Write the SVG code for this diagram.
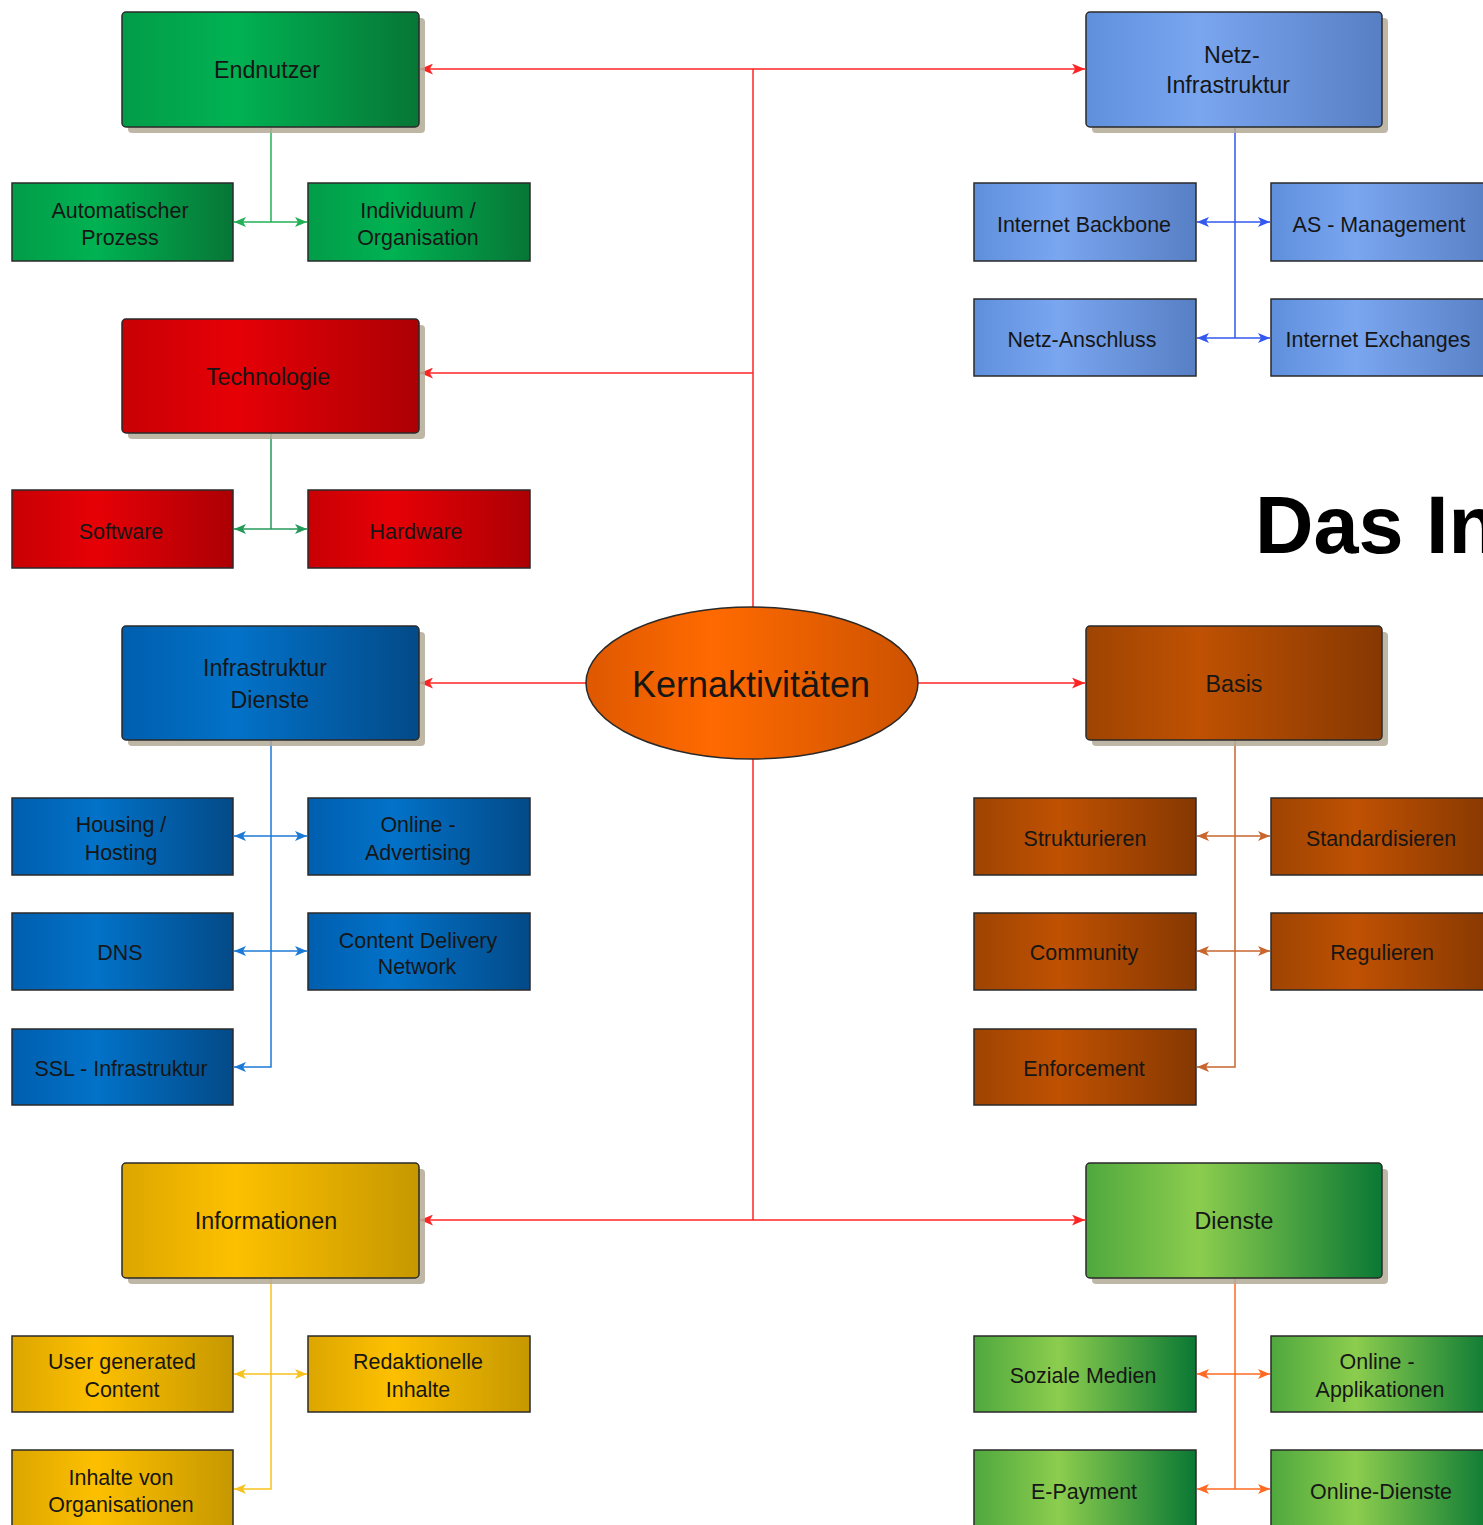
<svg xmlns="http://www.w3.org/2000/svg" width="1483" height="1525" viewBox="0 0 1483 1525">
  <style>
    .main { stroke: #2a2a2a; stroke-width: 1.5; }
    .sub { stroke: #2a2a2a; stroke-width: 1.5; }
    .shadow { fill: #b4aa96; opacity: 0.85; }
    text { font-family: "Liberation Sans", Arial, sans-serif; fill: #161616; text-anchor: middle; }
    .lm { font-size: 24px; transform-box: fill-box; transform-origin: center; transform: scaleX(0.97); }
    .ls { font-size: 22px; transform-box: fill-box; transform-origin: center; transform: scaleX(0.975); }
    .lc { font-size: 36px; }
    .title { font-size: 81px; font-weight: bold; text-anchor: start; fill: #000; }
    .c { fill: none; stroke-width: 1.5; }
    .red { stroke: #ff2424; }
    .gr1 { stroke: #22b055; }
    .gr2 { stroke: #249a5a; }
    .bl1 { stroke: #1c7ad6; }
    .yel { stroke: #f8c21e; }
    .bl2 { stroke: #3358ee; }
    .brn { stroke: #c8662e; }
    .org { stroke: #ff6a22; }
  </style>
  <defs>
    <linearGradient id="gGreen" x1="0" x2="1" y1="0" y2="0">
      <stop offset="0" stop-color="#029c48"/>
      <stop offset="0.38" stop-color="#00b252"/>
      <stop offset="1" stop-color="#077636"/>
    </linearGradient>
    <linearGradient id="gRed" x1="0" x2="1" y1="0" y2="0">
      <stop offset="0" stop-color="#c80004"/>
      <stop offset="0.38" stop-color="#e60006"/>
      <stop offset="1" stop-color="#ac0004"/>
    </linearGradient>
    <linearGradient id="gBlue" x1="0" x2="1" y1="0" y2="0">
      <stop offset="0" stop-color="#005eae"/>
      <stop offset="0.38" stop-color="#0272c8"/>
      <stop offset="1" stop-color="#034a88"/>
    </linearGradient>
    <linearGradient id="gYellow" x1="0" x2="1" y1="0" y2="0">
      <stop offset="0" stop-color="#dca600"/>
      <stop offset="0.38" stop-color="#fdc000"/>
      <stop offset="1" stop-color="#c69800"/>
    </linearGradient>
    <linearGradient id="gSky" x1="0" x2="1" y1="0" y2="0">
      <stop offset="0" stop-color="#5f8fdc"/>
      <stop offset="0.38" stop-color="#7aa6f0"/>
      <stop offset="1" stop-color="#577fc4"/>
    </linearGradient>
    <linearGradient id="gBrown" x1="0" x2="1" y1="0" y2="0">
      <stop offset="0" stop-color="#9e4402"/>
      <stop offset="0.38" stop-color="#bf5102"/>
      <stop offset="1" stop-color="#863802"/>
    </linearGradient>
    <linearGradient id="gLime" x1="0" x2="1" y1="0" y2="0">
      <stop offset="0" stop-color="#4fa83e"/>
      <stop offset="0.38" stop-color="#8ccd4e"/>
      <stop offset="1" stop-color="#0a7834"/>
    </linearGradient>
    <linearGradient id="gOrange" x1="0" x2="1" y1="0" y2="0">
      <stop offset="0" stop-color="#de5800"/>
      <stop offset="0.38" stop-color="#ff6a00"/>
      <stop offset="1" stop-color="#cc5200"/>
    </linearGradient>
    <marker id="mRed" viewBox="0 0 12 10" refX="12" refY="5" markerWidth="13" markerHeight="11" markerUnits="userSpaceOnUse" orient="auto-start-reverse">
      <path d="M0,0 L12,5 L0,10 L3,5 Z" fill="#ff2424"/>
    </marker>
    <marker id="mGr1" viewBox="0 0 12 10" refX="12" refY="5" markerWidth="12" markerHeight="10" markerUnits="userSpaceOnUse" orient="auto-start-reverse">
      <path d="M0,0 L12,5 L0,10 L3,5 Z" fill="#22b055"/>
    </marker>
    <marker id="mGr2" viewBox="0 0 12 10" refX="12" refY="5" markerWidth="12" markerHeight="10" markerUnits="userSpaceOnUse" orient="auto-start-reverse">
      <path d="M0,0 L12,5 L0,10 L3,5 Z" fill="#249a5a"/>
    </marker>
    <marker id="mBl1" viewBox="0 0 12 10" refX="12" refY="5" markerWidth="12" markerHeight="10" markerUnits="userSpaceOnUse" orient="auto-start-reverse">
      <path d="M0,0 L12,5 L0,10 L3,5 Z" fill="#1c7ad6"/>
    </marker>
    <marker id="mYel" viewBox="0 0 12 10" refX="12" refY="5" markerWidth="12" markerHeight="10" markerUnits="userSpaceOnUse" orient="auto-start-reverse">
      <path d="M0,0 L12,5 L0,10 L3,5 Z" fill="#f8c21e"/>
    </marker>
    <marker id="mBl2" viewBox="0 0 12 10" refX="12" refY="5" markerWidth="12" markerHeight="10" markerUnits="userSpaceOnUse" orient="auto-start-reverse">
      <path d="M0,0 L12,5 L0,10 L3,5 Z" fill="#3358ee"/>
    </marker>
    <marker id="mBrn" viewBox="0 0 12 10" refX="12" refY="5" markerWidth="12" markerHeight="10" markerUnits="userSpaceOnUse" orient="auto-start-reverse">
      <path d="M0,0 L12,5 L0,10 L3,5 Z" fill="#c8662e"/>
    </marker>
    <marker id="mOrg" viewBox="0 0 12 10" refX="12" refY="5" markerWidth="12" markerHeight="10" markerUnits="userSpaceOnUse" orient="auto-start-reverse">
      <path d="M0,0 L12,5 L0,10 L3,5 Z" fill="#ff6a22"/>
    </marker>
  </defs>

  <rect width="1483" height="1525" fill="#ffffff"/>

  <!-- connectors -->
  <g id="connectors">
    <!-- central trunk -->
    <path class="c red" d="M753,69 V1220"/>
    <path class="c red" d="M753,69 H420" marker-end="url(#mRed)"/>
    <path class="c red" d="M753,69 H1085" marker-end="url(#mRed)"/>
    <path class="c red" d="M753,373 H420" marker-end="url(#mRed)"/>
    <path class="c red" d="M587,683 H420" marker-end="url(#mRed)"/>
    <path class="c red" d="M918,683 H1085" marker-end="url(#mRed)"/>
    <path class="c red" d="M753,1220 H420" marker-end="url(#mRed)"/>
    <path class="c red" d="M753,1220 H1085" marker-end="url(#mRed)"/>

    <!-- Endnutzer branch -->
    <path class="c gr1" d="M271,127 V222"/>
    <path class="c gr1" d="M234,222 H307" marker-start="url(#mGr1)" marker-end="url(#mGr1)"/>

    <!-- Technologie branch -->
    <path class="c gr2" d="M271,433 V529"/>
    <path class="c gr2" d="M234,529 H307" marker-start="url(#mGr2)" marker-end="url(#mGr2)"/>

    <!-- Infrastruktur Dienste branch -->
    <path class="c bl1" d="M271,740 V1067 H234" marker-end="url(#mBl1)"/>
    <path class="c bl1" d="M234,836 H307" marker-start="url(#mBl1)" marker-end="url(#mBl1)"/>
    <path class="c bl1" d="M234,951 H307" marker-start="url(#mBl1)" marker-end="url(#mBl1)"/>

    <!-- Informationen branch -->
    <path class="c yel" d="M271,1278 V1489 H234" marker-end="url(#mYel)"/>
    <path class="c yel" d="M234,1374 H307" marker-start="url(#mYel)" marker-end="url(#mYel)"/>

    <!-- Netz-Infrastruktur branch -->
    <path class="c bl2" d="M1235,127 V338"/>
    <path class="c bl2" d="M1197,222 H1270" marker-start="url(#mBl2)" marker-end="url(#mBl2)"/>
    <path class="c bl2" d="M1197,338 H1270" marker-start="url(#mBl2)" marker-end="url(#mBl2)"/>

    <!-- Basis branch -->
    <path class="c brn" d="M1235,740 V1067 H1197" marker-end="url(#mBrn)"/>
    <path class="c brn" d="M1197,836 H1270" marker-start="url(#mBrn)" marker-end="url(#mBrn)"/>
    <path class="c brn" d="M1197,951 H1270" marker-start="url(#mBrn)" marker-end="url(#mBrn)"/>

    <!-- Dienste branch -->
    <path class="c org" d="M1235,1278 V1489"/>
    <path class="c org" d="M1197,1374 H1270" marker-start="url(#mOrg)" marker-end="url(#mOrg)"/>
    <path class="c org" d="M1197,1489 H1270" marker-start="url(#mOrg)" marker-end="url(#mOrg)"/>
  </g>

  <!-- heading, runs past the right edge -->
  <text class="title" x="1255" y="553">Das In</text>

  <!-- centre -->
  <g id="kernaktivitaeten">
    <ellipse cx="752" cy="683" rx="166" ry="76" fill="url(#gOrange)" stroke="#2a2a2a" stroke-width="1.5"/>
    <text class="lc" x="751" y="697">Kernaktivitäten</text>
  </g>

  <!-- Endnutzer -->
  <g id="endnutzer">
    <rect class="shadow" x="128" y="18" width="297" height="115" rx="4"/>
    <rect class="main" x="122" y="12" width="297" height="115" rx="4" fill="url(#gGreen)"/>
    <text class="lm" x="267" y="78">Endnutzer</text>
  </g>
  <g id="automatischer-prozess">
    <rect class="sub" x="12" y="183" width="221" height="78" fill="url(#gGreen)"/>
    <text class="ls"><tspan x="120" y="218">Automatischer</tspan><tspan x="120" y="245">Prozess</tspan></text>
  </g>
  <g id="individuum-organisation">
    <rect class="sub" x="308" y="183" width="222" height="78" fill="url(#gGreen)"/>
    <text class="ls"><tspan x="418" y="218">Individuum /</tspan><tspan x="418" y="245">Organisation</tspan></text>
  </g>

  <!-- Technologie -->
  <g id="technologie">
    <rect class="shadow" x="128" y="325" width="297" height="114" rx="4"/>
    <rect class="main" x="122" y="319" width="297" height="114" rx="4" fill="url(#gRed)"/>
    <text class="lm" x="268" y="385">Technologie</text>
  </g>
  <g id="software">
    <rect class="sub" x="12" y="490" width="221" height="78" fill="url(#gRed)"/>
    <text class="ls" x="121" y="539">Software</text>
  </g>
  <g id="hardware">
    <rect class="sub" x="308" y="490" width="222" height="78" fill="url(#gRed)"/>
    <text class="ls" x="416" y="539">Hardware</text>
  </g>

  <!-- Infrastruktur Dienste -->
  <g id="infrastruktur-dienste">
    <rect class="shadow" x="128" y="632" width="297" height="114" rx="4"/>
    <rect class="main" x="122" y="626" width="297" height="114" rx="4" fill="url(#gBlue)"/>
    <text class="lm"><tspan x="265" y="676">Infrastruktur</tspan><tspan x="270" y="708">Dienste</tspan></text>
  </g>
  <g id="housing-hosting">
    <rect class="sub" x="12" y="798" width="221" height="77" fill="url(#gBlue)"/>
    <text class="ls"><tspan x="121" y="832">Housing /</tspan><tspan x="121" y="860">Hosting</tspan></text>
  </g>
  <g id="online-advertising">
    <rect class="sub" x="308" y="798" width="222" height="77" fill="url(#gBlue)"/>
    <text class="ls"><tspan x="418" y="832">Online -</tspan><tspan x="418" y="860">Advertising</tspan></text>
  </g>
  <g id="dns">
    <rect class="sub" x="12" y="913" width="221" height="77" fill="url(#gBlue)"/>
    <text class="ls" x="120" y="960">DNS</text>
  </g>
  <g id="content-delivery-network">
    <rect class="sub" x="308" y="913" width="222" height="77" fill="url(#gBlue)"/>
    <text class="ls"><tspan x="418" y="948">Content Delivery</tspan><tspan x="417" y="974">Network</tspan></text>
  </g>
  <g id="ssl-infrastruktur">
    <rect class="sub" x="12" y="1029" width="221" height="76" fill="url(#gBlue)"/>
    <text class="ls" x="121" y="1076">SSL - Infrastruktur</text>
  </g>

  <!-- Informationen -->
  <g id="informationen">
    <rect class="shadow" x="128" y="1169" width="297" height="115" rx="4"/>
    <rect class="main" x="122" y="1163" width="297" height="115" rx="4" fill="url(#gYellow)"/>
    <text class="lm" x="266" y="1229">Informationen</text>
  </g>
  <g id="user-generated-content">
    <rect class="sub" x="12" y="1336" width="221" height="76" fill="url(#gYellow)"/>
    <text class="ls"><tspan x="122" y="1369">User generated</tspan><tspan x="122" y="1397">Content</tspan></text>
  </g>
  <g id="redaktionelle-inhalte">
    <rect class="sub" x="308" y="1336" width="222" height="76" fill="url(#gYellow)"/>
    <text class="ls"><tspan x="418" y="1369">Redaktionelle</tspan><tspan x="418" y="1397">Inhalte</tspan></text>
  </g>
  <g id="inhalte-von-organisationen">
    <rect class="sub" x="12" y="1450" width="221" height="78" fill="url(#gYellow)"/>
    <text class="ls"><tspan x="121" y="1485">Inhalte von</tspan><tspan x="121" y="1512">Organisationen</tspan></text>
  </g>

  <!-- Netz-Infrastruktur -->
  <g id="netz-infrastruktur">
    <rect class="shadow" x="1092" y="18" width="296" height="115" rx="4"/>
    <rect class="main" x="1086" y="12" width="296" height="115" rx="4" fill="url(#gSky)"/>
    <text class="lm"><tspan x="1232" y="63">Netz-</tspan><tspan x="1228" y="93">Infrastruktur</tspan></text>
  </g>
  <g id="internet-backbone">
    <rect class="sub" x="974" y="183" width="222" height="78" fill="url(#gSky)"/>
    <text class="ls" x="1084" y="232">Internet Backbone</text>
  </g>
  <g id="as-management">
    <rect class="sub" x="1271" y="183" width="222" height="78" fill="url(#gSky)"/>
    <text class="ls" x="1379" y="232">AS - Management</text>
  </g>
  <g id="netz-anschluss">
    <rect class="sub" x="974" y="299" width="222" height="77" fill="url(#gSky)"/>
    <text class="ls" x="1082" y="347">Netz-Anschluss</text>
  </g>
  <g id="internet-exchanges">
    <rect class="sub" x="1271" y="299" width="222" height="77" fill="url(#gSky)"/>
    <text class="ls" x="1378" y="347">Internet Exchanges</text>
  </g>

  <!-- Basis -->
  <g id="basis">
    <rect class="shadow" x="1092" y="632" width="296" height="114" rx="4"/>
    <rect class="main" x="1086" y="626" width="296" height="114" rx="4" fill="url(#gBrown)"/>
    <text class="lm" x="1234" y="692">Basis</text>
  </g>
  <g id="strukturieren">
    <rect class="sub" x="974" y="798" width="222" height="77" fill="url(#gBrown)"/>
    <text class="ls" x="1085" y="846">Strukturieren</text>
  </g>
  <g id="standardisieren">
    <rect class="sub" x="1271" y="798" width="222" height="77" fill="url(#gBrown)"/>
    <text class="ls" x="1381" y="846">Standardisieren</text>
  </g>
  <g id="community">
    <rect class="sub" x="974" y="913" width="222" height="77" fill="url(#gBrown)"/>
    <text class="ls" x="1084" y="960">Community</text>
  </g>
  <g id="regulieren">
    <rect class="sub" x="1271" y="913" width="222" height="77" fill="url(#gBrown)"/>
    <text class="ls" x="1382" y="960">Regulieren</text>
  </g>
  <g id="enforcement">
    <rect class="sub" x="974" y="1029" width="222" height="76" fill="url(#gBrown)"/>
    <text class="ls" x="1084" y="1076">Enforcement</text>
  </g>

  <!-- Dienste -->
  <g id="dienste">
    <rect class="shadow" x="1092" y="1169" width="296" height="115" rx="4"/>
    <rect class="main" x="1086" y="1163" width="296" height="115" rx="4" fill="url(#gLime)"/>
    <text class="lm" x="1234" y="1229">Dienste</text>
  </g>
  <g id="soziale-medien">
    <rect class="sub" x="974" y="1336" width="222" height="76" fill="url(#gLime)"/>
    <text class="ls" x="1083" y="1383">Soziale Medien</text>
  </g>
  <g id="online-applikationen">
    <rect class="sub" x="1271" y="1336" width="222" height="76" fill="url(#gLime)"/>
    <text class="ls"><tspan x="1377" y="1369">Online -</tspan><tspan x="1380" y="1397">Applikationen</tspan></text>
  </g>
  <g id="e-payment">
    <rect class="sub" x="974" y="1450" width="222" height="78" fill="url(#gLime)"/>
    <text class="ls" x="1084" y="1499">E-Payment</text>
  </g>
  <g id="online-dienste">
    <rect class="sub" x="1271" y="1450" width="222" height="78" fill="url(#gLime)"/>
    <text class="ls" x="1381" y="1499">Online-Dienste</text>
  </g>
</svg>
